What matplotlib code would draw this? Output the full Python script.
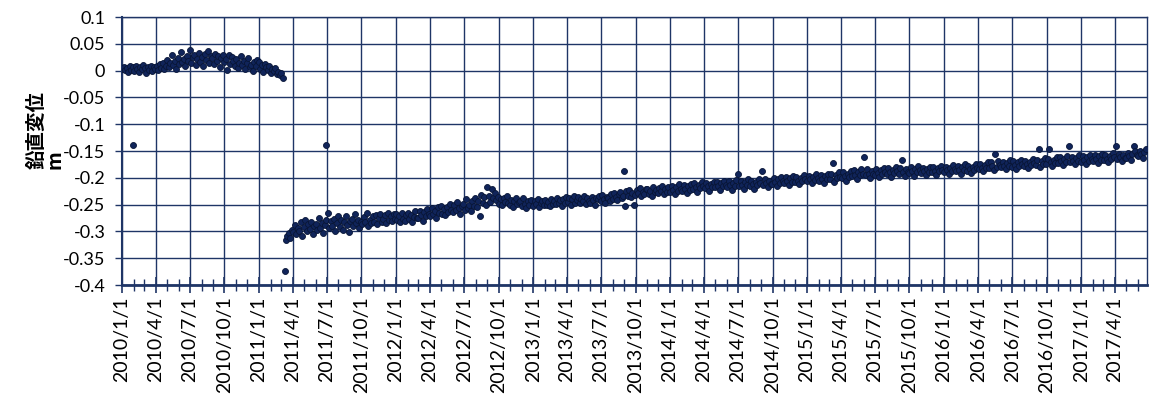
import pandas as pd
import matplotlib
matplotlib.use("Agg")
import matplotlib.pyplot as plt
import matplotlib.dates as mdates
from matplotlib.ticker import FixedLocator, FuncFormatter

plt.rcParams['font.family'] = ['Lato', 'Noto Sans CJK JP', 'DejaVu Sans']

# 鉛直変位 (mm), 4日ごと
pre_2010 = [4, 7, 1, 5, -3, 8, 2, 6,
            0, 9, 4, -2, 6, 3, 10,
            5, -4, 7, 2, 8, 0, 6, 3,
            9, 1, 12, 5, 15, 3, 8,
            20, 7, 14, 30, 10, 18, 4, 24,
            12, 34, 16, 22, 8, 27, 19,
            38, 14, 25, 30, 11, 21, 33, 17,
            26, 9, 31, 20, 36, 15, 28, 23,
            12, 32, 18, 27, 6, 24, 30,
            16, 22, 2, 29, 13, 25, 19, 8,
            21, 5, 15, 27, 10, 18, 3,
            14, 24, 7, 11, 0, 17, 9, 20]
pre_2011 = [16, 4, 10, -2, 12, 6, 1, 8, -4, 3, 0, 5, -6, -2, -8, -5, -14]

post_2011 = [-316, -309, -303, -312, -298,
             -301, -288, -305, -294, -299, -283, -308, -292,
             -279, -300, -287, -296, -282, -304, -290, -286,
             -298, -275, -293, -284, -303, -288, -279,
             -266, -294, -281, -290, -276, -300, -285, -272,
             -292, -279, -297, -283, -271, -288, -301, -280,
             -276, -290, -268, -285, -279, -294, -282,
             -287, -273, -283, -266, -290, -278, -284, -271,
             -282, -270, -286, -275, -268, -283, -277,
             -270, -284, -265, -279, -272, -281, -268, -277]
post_2012 = [-268, -279, -271, -283, -266, -276, -280, -270,
             -265, -277, -269, -282, -273, -262, -275,
             -274, -261, -270, -280, -264, -272, -258, -267,
             -271, -257, -268, -262, -275, -255, -266,
             -252, -267, -259, -270, -254, -263, -248, -260,
             -264, -251, -260, -245, -257, -267, -253,
             -248, -260, -240, -256, -250, -262, -244, -252,
             -238, -255, -244, -272, -232, -247, -236, -250,
             -218, -233, -245, -220, -238, -229, -242,
             -236, -248, -240, -251, -238, -245, -234, -247,
             -250, -241, -254, -244, -238, -249, -245,
             -243, -252, -238, -248, -256, -244, -250, -241]
post_2013 = [-252, -243, -249, -240, -255, -246, -244, -251,
             -241, -250, -245, -253, -239, -248, -244,
             -249, -238, -246, -241, -252, -240, -247, -236,
             -245, -237, -250, -240, -234, -246, -241,
             -236, -247, -239, -244, -233, -249, -238, -243,
             -246, -235, -242, -250, -237, -240, -233,
             -243, -232, -240, -247, -235, -238, -244, -230,
             -239, -228, -236, -242, -231, -226, -238, -233,
             -252, -225, -233, -222, -236, -228, -250,
             -232, -223, -229, -219, -234, -226, -230, -221,
             -220, -230, -224, -233, -218, -227, -223,
             -228, -219, -225, -215, -230, -221, -226, -217]
post_2014 = [-226, -215, -222, -230, -218, -224, -212, -221,
             -224, -213, -220, -228, -216, -222, -211,
             -221, -210, -218, -226, -213, -219, -208, -216,
             -219, -209, -216, -224, -211, -217, -207,
             -218, -208, -215, -222, -210, -216, -205, -213,
             -217, -206, -214, -222, -209, -215, -204,
             -192, -216, -206, -213, -221, -208, -214, -203,
             -215, -205, -212, -220, -207, -213, -202, -210,
             -188, -213, -203, -210, -218, -205, -211,
             -211, -201, -208, -216, -203, -209, -198, -206,
             -210, -199, -206, -214, -201, -207, -196,
             -208, -198, -205, -212, -200, -206, -195, -203]
post_2015 = [-206, -196, -203, -210, -198, -204, -193, -201,
             -205, -195, -202, -209, -197, -203, -192,
             -203, -193, -172, -207, -195, -201, -190, -198,
             -200, -189, -197, -205, -192, -198, -187,
             -197, -186, -194, -202, -189, -195, -184, -192,
             -162, -195, -184, -192, -200, -187, -193,
             -194, -183, -191, -199, -186, -192, -181, -189,
             -193, -182, -190, -198, -185, -191, -180, -188,
             -192, -181, -166, -189, -197, -184, -190,
             -191, -180, -188, -196, -183, -189, -178, -186,
             -191, -181, -188, -195, -183, -189, -179,
             -190, -180, -187, -194, -182, -188, -177, -185]
post_2016 = [-189, -179, -186, -193, -181, -187, -176, -184,
             -188, -178, -185, -192, -180, -186, -175,
             -187, -177, -184, -191, -179, -185, -174, -182,
             -184, -174, -181, -188, -176, -182, -171,
             -181, -171, -178, -185, -155, -179, -168, -176,
             -180, -170, -177, -184, -172, -178, -167,
             -179, -169, -176, -183, -171, -177, -166, -174,
             -178, -168, -175, -182, -170, -176, -165, -173,
             -176, -166, -147, -180, -168, -174, -163,
             -174, -164, -147, -171, -178, -166, -172, -161,
             -172, -162, -169, -176, -164, -170, -159,
             -140, -171, -161, -168, -175, -163, -169, -158]
post_2017 = [-170, -160, -167, -174, -162, -168, -157, -165,
             -168, -158, -165, -172, -160, -166, -155,
             -167, -157, -164, -171, -159, -165, -154, -162,
             -140, -165, -155, -162, -169, -157, -163,
             -163, -153, -160, -167, -155, -140, -150, -158,
             -159, -149, -156, -163, -151, -146]

segments = [("2010-01-01", pre_2010), ("2011-01-01", pre_2011),
            ("2011-03-13", post_2011), ("2012-01-01", post_2012),
            ("2013-01-01", post_2013), ("2014-01-01", post_2014),
            ("2015-01-01", post_2015), ("2016-01-01", post_2016),
            ("2017-01-01", post_2017)]

# 単発の外れ値
outlier_dates = ["2010-01-30", "2011-03-12", "2011-06-30", "2013-08-30"]
outlier_mm = [-138, -374, -138, -187]

dates = []
vals = []
for start, mm in segments:
    dates.extend(pd.date_range(start, periods=len(mm), freq="4D"))
    vals.extend(mm)
dates.extend(pd.to_datetime(outlier_dates))
vals.extend(outlier_mm)
s = pd.Series([v / 1000.0 for v in vals], index=pd.DatetimeIndex(dates)).sort_index()

navy = "#1F3566"
W, H = 1151, 394
fig = plt.figure(figsize=(W / 100, H / 100), dpi=100)
ax = fig.add_axes([0.106, 0.2766, 0.8905, 0.680])

ax.plot(s.index, s.values, linestyle="none", marker="o", ms=4.3,
        mfc="#10245A", mec="#081536", mew=0.6, zorder=3)

ax.set_ylim(-0.4, 0.1)
ax.set_xlim(pd.Timestamp("2010-01-01"), pd.Timestamp("2017-06-25"))

yticks = [0.1 - 0.05 * i for i in range(11)]
ax.yaxis.set_major_locator(FixedLocator(yticks))
ax.yaxis.set_major_formatter(FuncFormatter(lambda v, p: "0" if abs(v) < 1e-9 else f"{v:g}"))

quarters = pd.date_range("2010-01-01", "2017-04-01", freq="QS")
ax.xaxis.set_major_locator(FixedLocator(mdates.date2num(quarters)))
ax.xaxis.set_major_formatter(FuncFormatter(
    lambda x, p: (lambda d: f"{d.year}/{d.month}/{d.day}")(mdates.num2date(x))))
ax.xaxis.set_minor_locator(mdates.MonthLocator())

ax.grid(True, which="major", color=navy, linewidth=1.0, zorder=0)
for sp in ax.spines.values():
    sp.set_color(navy)
    sp.set_linewidth(1.0)
ax.spines["bottom"].set_linewidth(2.0)
ax.spines["left"].set_linewidth(1.5)

ax.tick_params(axis="x", which="major", direction="inout", length=12, width=1.2,
               color=navy, labelrotation=90, labelsize=14, pad=2)
ax.tick_params(axis="x", which="minor", direction="inout", length=8, width=1.0, color=navy)
ax.tick_params(axis="y", which="major", direction="out", length=5, width=1.0,
               color=navy, labelsize=13, pad=7)

# 縦軸タイトル (2行, 2行目は下寄せ)
fig.text(46 / W, 1 - 130 / H, "鉛直変位\nm", rotation=90, ha="center", va="center",
         multialignment="left", linespacing=0.95, fontsize=14, fontweight="bold",
         family=["Noto Sans CJK JP", "DejaVu Sans"])

fig.savefig("out.png", dpi=100)
